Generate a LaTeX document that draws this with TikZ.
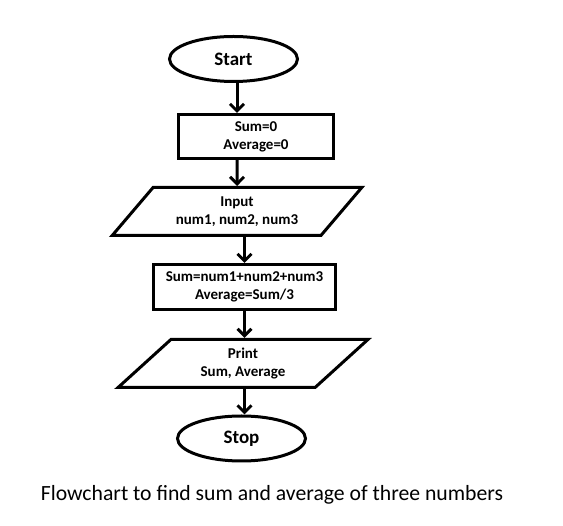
\documentclass[tikz,border=0pt]{standalone}
\usepackage{fontspec}
\setmainfont{Carlito}
\usepackage{tikz}
\usetikzlibrary{arrows.meta, shapes.geometric}

\tikzset{
  term/.style={draw, ellipse, line width=3pt, minimum width=128pt, minimum height=45pt,
    inner sep=0pt, font=\fontsize{19}{22}\selectfont\bfseries},
  proc/.style={draw, rectangle, line width=3pt, inner sep=0pt, align=center,
    font=\fontsize{15}{18}\selectfont\bfseries},
  io/.style={draw, trapezium, trapezium left angle=45, trapezium right angle=135,
    trapezium stretches=true, line width=3pt, inner sep=0pt, align=center,
    minimum width=250pt, minimum height=48pt, font=\fontsize{15}{18}\selectfont\bfseries},
  arr/.style={-{Straight Barb[length=7pt, width=14pt]}, line width=3pt}
}

\begin{document}
\begin{tikzpicture}[x=1pt, y=-1pt]
    \useasboundingbox (0,0) rectangle (563,526);
    \node[term] (start) at (233.5, 59){Start};
    \node[proc, minimum width=155pt, minimum height=44pt] (init) at (256, 136.5){Sum=0\\Average=0};
    \node[io] (in) at (237, 211.5){Input\\num1, num2, num3};
    \node[proc, minimum width=182pt, minimum height=45pt] (calc) at (244.5, 287){Sum=num1+num2+num3\\Average=Sum/3};
    \node[io] (out) at (243, 363.5){Print\\Sum, Average};
    \node[term] (stop) at (241.5, 438.5){Stop};
    \node[font=\fontsize{21.7}{26}\selectfont] (cap) at (272, 495){Flowchart to find sum and average of three numbers};
    \draw[arr] (in |- start.south)--(in |- init.north);
    \draw[arr] (in |- init.south)--(in.north);
    \draw[arr] (calc |- in.south)--(calc.north);
    \draw[arr] (calc.south)--(calc |- out.north);
    \draw[arr] (calc |- out.south)--(calc |- stop.north);
  \end{tikzpicture}
\end{document}
